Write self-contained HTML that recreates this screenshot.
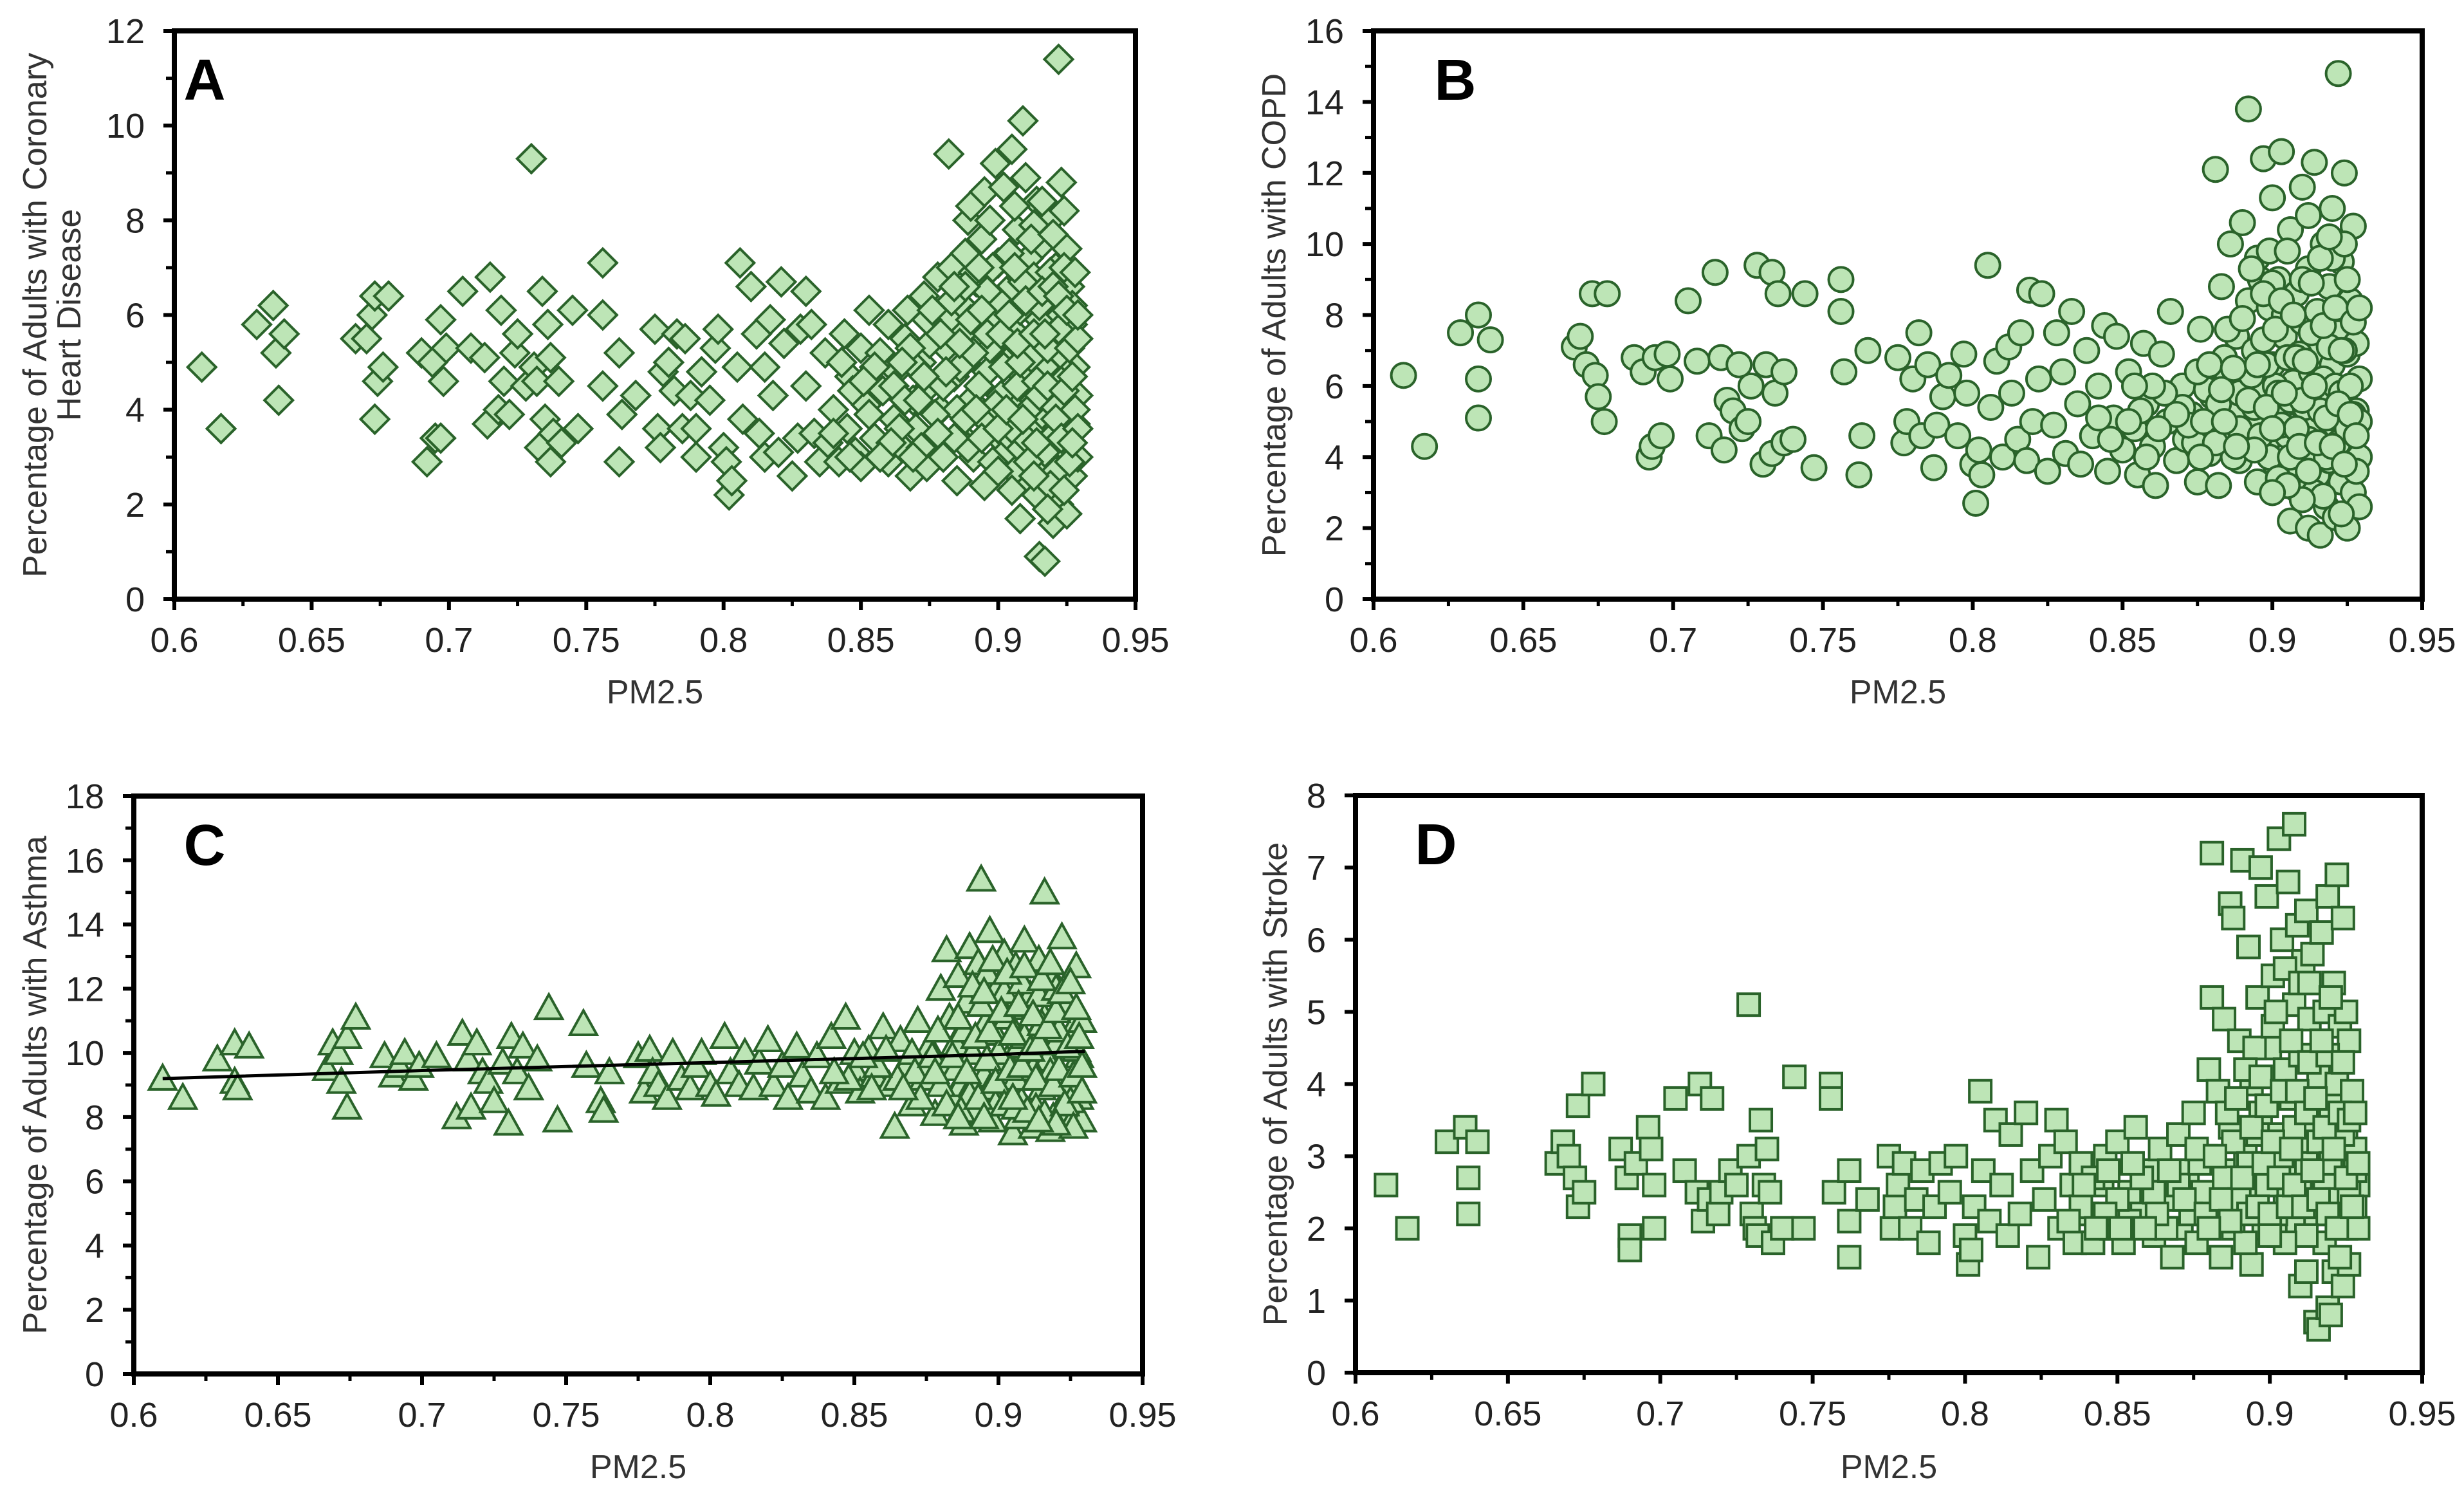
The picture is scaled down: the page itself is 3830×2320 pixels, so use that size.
<!DOCTYPE html>
<html><head><meta charset="utf-8">
<style>
html,body{margin:0;padding:0;background:#fff;}
svg{display:block;font-family:"Liberation Sans",Arial,sans-serif;}
</style></head>
<body>
<svg id="fig" width="3830" height="2320" viewBox="0 0 3830 2320" xmlns="http://www.w3.org/2000/svg"></svg>
<script>
const xTicks = [0.6,0.65,0.7,0.75,0.8,0.85,0.9,0.95];
const xTickLabels = ["0.6","0.65","0.7","0.75","0.8","0.85","0.9","0.95"];
const yTicksA = [0,2,4,6,8,10,12];
const yTicksB = [0,2,4,6,8,10,12,14,16];
const yTicksC = [0,2,4,6,8,10,12,14,16,18];
const yTicksD = [0,1,2,3,4,5,6,7,8];
const trendXC = [0.61,0.7,0.8,0.9,0.93];
const trendYC = [9.2,9.45,9.7,9.95,10.05];

const seriesA = [[0.61,4.9],[0.617,3.6],[0.63,5.8],[0.636,6.2],[0.637,5.2],[0.638,4.2],[0.64,5.6],[0.666,5.5],[0.67,5.5],[0.672,6.0],[0.673,6.4],[0.674,4.6],[0.673,3.8],[0.676,4.9],[0.678,6.4],[0.69,5.2],[0.692,2.9],[0.694,5.0],[0.695,3.4],[0.697,3.4],[0.697,5.9],[0.698,4.6],[0.699,5.3],[0.705,6.5],[0.708,5.3],[0.713,5.1],[0.714,3.7],[0.715,6.8],[0.718,4.0],[0.719,6.1],[0.72,4.6],[0.722,3.9],[0.724,5.2],[0.725,5.6],[0.728,4.5],[0.73,9.3],[0.731,4.9],[0.732,4.6],[0.733,3.2],[0.734,6.5],[0.735,3.8],[0.736,5.8],[0.737,5.1],[0.738,3.5],[0.737,2.9],[0.74,4.6],[0.741,3.3],[0.745,6.1],[0.747,3.6],[0.756,7.1],[0.756,6.0],[0.756,4.5],[0.762,5.2],[0.763,3.9],[0.762,2.9],[0.768,4.3],[0.775,5.7],[0.776,3.6],[0.777,3.2],[0.778,4.8],[0.78,5.0],[0.782,4.4],[0.783,5.6],[0.785,3.6],[0.786,5.5],[0.788,4.3],[0.79,3.6],[0.79,3.0],[0.792,4.8],[0.795,4.2],[0.797,5.3],[0.798,5.7],[0.8,3.2],[0.801,2.9],[0.802,2.2],[0.803,2.5],[0.805,4.9],[0.806,7.1],[0.807,3.8],[0.81,6.6],[0.812,5.6],[0.813,3.5],[0.815,3.0],[0.815,4.9],[0.817,5.9],[0.818,4.3],[0.82,3.1],[0.821,6.7],[0.822,5.4],[0.825,2.6],[0.827,3.4],[0.828,5.7],[0.83,6.5],[0.83,4.5],[0.832,5.8],[0.833,3.5],[0.835,2.9],[0.837,5.2],[0.838,3.3],[0.84,4.0],[0.842,2.9],[0.844,5.6],[0.845,3.6],[0.846,4.7],[0.848,3.1],[0.85,5.3],[0.85,2.8],[0.852,4.1],[0.853,6.1],[0.855,3.4],[0.857,5.2],[0.858,4.4],[0.86,2.9],[0.86,5.8],[0.862,3.8],[0.863,4.8],[0.865,3.2],[0.866,5.5],[0.867,6.1],[0.868,2.6],[0.869,4.2],[0.87,3.6],[0.872,5.0],[0.873,6.4],[0.874,2.8],[0.875,4.5],[0.876,3.3],[0.877,5.8],[0.878,6.8],[0.879,4.0],[0.88,3.0],[0.881,5.3],[0.882,9.4],[0.883,7.0],[0.884,4.7],[0.885,2.5],[0.886,3.5],[0.887,6.2],[0.888,5.0],[0.889,8.0],[0.89,8.3],[0.89,4.2],[0.891,3.0],[0.892,6.7],[0.893,5.5],[0.894,7.6],[0.895,8.6],[0.895,2.4],[0.896,4.8],[0.897,3.7],[0.898,6.0],[0.899,9.2],[0.9,7.1],[0.9,5.2],[0.901,4.3],[0.902,8.7],[0.902,3.3],[0.903,6.5],[0.904,2.8],[0.905,9.5],[0.905,5.7],[0.906,4.0],[0.907,7.8],[0.907,3.1],[0.908,1.7],[0.908,6.1],[0.909,10.1],[0.909,4.7],[0.91,8.9],[0.91,2.5],[0.911,5.4],[0.911,7.2],[0.912,3.6],[0.913,6.8],[0.913,4.2],[0.914,8.4],[0.914,2.2],[0.915,5.9],[0.915,0.9],[0.916,3.9],[0.916,7.5],[0.917,0.8],[0.917,4.9],[0.918,6.3],[0.918,2.9],[0.919,8.0],[0.919,3.4],[0.92,5.5],[0.92,1.6],[0.921,7.0],[0.921,4.4],[0.922,11.4],[0.922,2.0],[0.923,6.0],[0.923,8.8],[0.924,3.2],[0.924,5.1],[0.925,7.4],[0.925,1.8],[0.926,4.0],[0.926,6.6],[0.927,2.6],[0.927,5.8],[0.928,3.7],[0.928,4.9],[0.929,4.3],
[0.885,4.0],[0.887,5.6],[0.889,3.2],[0.891,6.9],[0.893,4.5],[0.895,3.8],[0.897,5.3],[0.899,4.1],[0.9,6.3],[0.901,3.0],[0.903,5.0],[0.904,7.3],[0.906,2.7],[0.907,4.5],[0.909,6.7],[0.91,3.4],[0.912,5.1],[0.913,7.9],[0.914,4.6],[0.915,6.2],[0.917,3.1],[0.918,5.3],[0.919,6.9],[0.92,4.1],[0.921,2.7],[0.922,5.7],[0.923,4.6],[0.924,7.0],[0.925,3.5],[0.926,5.3],[0.927,6.2],[0.928,4.0],[0.929,5.5],[0.929,3.0],[0.896,6.5],[0.898,2.9],[0.902,4.9],[0.905,3.6],[0.908,5.0],[0.911,4.0],[0.87,4.9],[0.872,3.2],[0.875,5.4],[0.877,3.9],[0.88,4.5],[0.882,5.9],[0.884,3.4],[0.886,4.9],[0.888,6.6],[0.891,5.2],[0.894,3.4],[0.862,4.5],[0.864,3.6],[0.866,4.2],[0.868,5.3],[0.855,4.9],[0.853,3.9],[0.847,4.4],[0.843,5.0],[0.84,3.5]];
const extraA = [[0.871,4.2],[0.874,5.9],[0.878,3.5],[0.881,4.8],[0.883,6.3],[0.886,5.4],[0.888,3.8],[0.89,5.9],[0.892,4.0],[0.894,6.1],[0.896,5.6],[0.898,7.0],[0.9,3.6],[0.901,5.6],[0.903,4.0],[0.904,6.0],[0.906,7.0],[0.907,5.4],[0.909,3.8],[0.91,6.3],[0.911,2.9],[0.912,7.6],[0.913,5.6],[0.914,3.3],[0.915,4.3],[0.916,6.5],[0.917,5.6],[0.918,4.5],[0.919,2.4],[0.92,6.6],[0.921,3.8],[0.922,6.4],[0.923,3.4],[0.924,4.4],[0.925,6.1],[0.926,2.9],[0.927,4.7],[0.928,6.9],[0.929,3.6],[0.929,6.0],[0.92,7.7],[0.924,8.2],[0.916,8.4],[0.906,8.3],[0.897,8.0],[0.893,7.0],[0.888,7.3],[0.884,6.6],[0.879,5.6],[0.876,6.1],[0.873,4.7],[0.869,3.0],[0.865,5.0],[0.861,3.3],[0.857,3.0],[0.851,4.6],[0.846,3.0],[0.9,2.7],[0.905,2.3],[0.913,2.6],[0.918,1.9],[0.924,2.3],[0.927,3.3]];

const seriesB = [[0.61,6.3],[0.617,4.3],[0.629,7.5],[0.635,8.0],[0.635,6.2],[0.635,5.1],[0.639,7.3],[0.667,7.1],[0.669,7.4],[0.671,6.6],[0.673,8.6],[0.674,6.3],[0.675,5.7],[0.677,5.0],[0.678,8.6],[0.687,6.8],[0.69,6.4],[0.692,4.0],[0.693,4.3],[0.694,6.8],[0.696,4.6],[0.698,6.9],[0.699,6.2],[0.705,8.4],[0.708,6.7],[0.712,4.6],[0.714,9.2],[0.716,6.8],[0.717,4.2],[0.718,5.6],[0.72,5.3],[0.722,6.6],[0.723,4.8],[0.725,5.0],[0.726,6.0],[0.728,9.4],[0.73,3.8],[0.731,6.6],[0.733,9.2],[0.733,4.1],[0.734,5.8],[0.735,8.6],[0.737,4.4],[0.737,6.4],[0.74,4.5],[0.744,8.6],[0.747,3.7],[0.756,9.0],[0.756,8.1],[0.757,6.4],[0.762,3.5],[0.763,4.6],[0.765,7.0],[0.775,6.8],[0.777,4.4],[0.778,5.0],[0.78,6.2],[0.782,7.5],[0.783,4.6],[0.785,6.6],[0.787,3.7],[0.788,4.9],[0.79,5.7],[0.792,6.3],[0.795,4.6],[0.797,6.9],[0.798,5.8],[0.8,3.8],[0.801,2.7],[0.802,4.2],[0.803,3.5],[0.805,9.4],[0.806,5.4],[0.808,6.7],[0.81,4.0],[0.812,7.1],[0.813,5.8],[0.815,4.5],[0.816,7.5],[0.818,3.9],[0.819,8.7],[0.82,5.0],[0.822,6.2],[0.823,8.6],[0.825,3.6],[0.827,4.9],[0.828,7.5],[0.83,6.4],[0.831,4.1],[0.833,8.1],[0.835,5.5],[0.836,3.8],[0.838,7.0],[0.84,4.6],[0.842,6.0],[0.844,7.7],[0.845,3.6],[0.847,5.1],[0.848,7.4],[0.85,4.2],[0.852,6.4],[0.854,4.8],[0.855,3.5],[0.857,7.2],[0.858,5.5],[0.86,4.3],[0.861,3.2],[0.863,6.9],[0.865,5.0],[0.866,8.1],[0.868,3.9],[0.87,6.0],[0.871,4.5],[0.873,5.2],[0.875,3.3],[0.876,7.6],[0.877,6.4],[0.879,4.1],[0.88,5.7],[0.881,12.1],[0.882,3.2],[0.883,8.8],[0.884,6.8],[0.885,4.6],[0.886,10.0],[0.887,5.3],[0.888,7.4],[0.889,3.9],[0.89,10.6],[0.891,6.1],[0.892,8.4],[0.892,13.8],[0.893,4.8],[0.894,7.0],[0.895,3.3],[0.895,9.6],[0.896,5.8],[0.897,12.4],[0.898,4.3],[0.899,8.2],[0.9,6.6],[0.9,11.3],[0.901,3.8],[0.902,5.2],[0.902,9.0],[0.903,12.6],[0.904,7.4],[0.905,4.6],[0.906,2.2],[0.906,10.4],[0.907,6.1],[0.908,8.6],[0.908,3.1],[0.909,5.5],[0.91,11.6],[0.91,7.8],[0.911,4.0],[0.912,2.0],[0.912,9.3],[0.913,6.4],[0.914,5.0],[0.914,12.3],[0.915,3.5],[0.915,8.1],[0.916,1.8],[0.916,7.0],[0.917,4.4],[0.917,10.0],[0.918,5.9],[0.918,2.6],[0.919,8.8],[0.919,3.9],[0.92,6.6],[0.92,11.0],[0.921,4.9],[0.921,2.3],[0.922,7.5],[0.922,14.8],[0.923,3.3],[0.923,9.5],[0.924,5.6],[0.924,12.0],[0.925,6.9],[0.925,2.0],[0.926,4.2],[0.926,8.4],[0.927,10.5],[0.927,3.0],[0.928,5.3],[0.928,7.2],[0.929,4.0],[0.929,6.2],
[0.88,5.0],[0.885,6.2],[0.887,4.0],[0.889,5.8],[0.891,4.5],[0.893,6.3],[0.895,5.0],[0.897,7.3],[0.899,4.0],[0.901,6.0],[0.903,4.9],[0.904,8.0],[0.906,5.6],[0.907,3.6],[0.909,6.9],[0.911,5.4],[0.912,4.5],[0.913,7.5],[0.914,3.0],[0.916,5.3],[0.917,6.2],[0.918,4.0],[0.919,7.1],[0.92,5.1],[0.921,6.0],[0.922,4.4],[0.923,5.8],[0.924,7.0],[0.925,4.8],[0.926,6.0],[0.927,5.2],[0.928,3.6],[0.929,5.0],[0.894,5.4],[0.898,6.6],[0.902,5.8],[0.905,6.8],[0.908,4.8],[0.91,5.6],[0.87,5.4],[0.874,4.4],[0.878,5.9],[0.882,5.5],[0.886,4.8],[0.864,5.8],[0.86,6.0],[0.856,5.3],[0.852,5.0],[0.896,9.0],[0.9,8.9],[0.912,10.8],[0.92,9.6],[0.924,10.0]];
const extraB = [[0.872,4.9],[0.875,6.4],[0.877,5.0],[0.879,6.6],[0.881,4.4],[0.883,5.9],[0.885,7.6],[0.887,6.5],[0.889,4.8],[0.89,7.9],[0.892,5.6],[0.893,9.3],[0.895,6.6],[0.896,4.6],[0.897,8.6],[0.898,5.4],[0.899,9.8],[0.9,4.8],[0.901,7.6],[0.902,3.4],[0.903,8.4],[0.904,5.8],[0.905,9.8],[0.906,4.0],[0.907,8.0],[0.908,6.8],[0.909,4.3],[0.91,9.0],[0.911,6.7],[0.912,3.6],[0.913,8.9],[0.914,6.0],[0.915,4.4],[0.916,9.6],[0.917,7.7],[0.918,5.1],[0.919,10.2],[0.92,4.3],[0.921,8.2],[0.922,5.5],[0.923,7.0],[0.924,3.8],[0.925,9.0],[0.926,5.2],[0.927,7.8],[0.928,4.6],[0.929,8.2],[0.929,2.6],[0.923,2.4],[0.917,2.9],[0.91,2.8],[0.905,3.2],[0.9,3.0],[0.894,4.2],[0.888,4.3],[0.884,5.0],[0.876,4.0],[0.868,5.2],[0.862,4.8],[0.858,4.0],[0.854,6.0],[0.846,4.5],[0.842,5.1]];

const seriesC = [[0.61,9.2],[0.617,8.6],[0.629,9.8],[0.635,10.3],[0.635,9.1],[0.636,8.9],[0.64,10.2],[0.667,9.5],[0.669,10.3],[0.671,10.0],[0.672,9.1],[0.674,8.3],[0.674,10.5],[0.677,11.1],[0.687,9.9],[0.69,9.3],[0.692,9.6],[0.694,10.0],[0.697,9.2],[0.699,9.6],[0.705,9.9],[0.712,8.0],[0.714,10.6],[0.716,9.8],[0.717,8.3],[0.719,10.3],[0.721,9.4],[0.723,9.1],[0.725,8.5],[0.728,9.7],[0.73,7.8],[0.731,10.5],[0.733,9.4],[0.735,10.2],[0.737,8.9],[0.74,9.8],[0.744,11.4],[0.747,7.9],[0.756,10.9],[0.757,9.6],[0.762,8.5],[0.763,8.2],[0.765,9.4],[0.775,9.9],[0.777,8.8],[0.779,10.1],[0.78,9.4],[0.782,9.0],[0.785,8.6],[0.787,10.0],[0.79,9.2],[0.793,8.9],[0.795,9.6],[0.797,10.0],[0.8,9.0],[0.802,8.7],[0.805,10.5],[0.807,9.4],[0.81,9.0],[0.812,10.0],[0.815,8.9],[0.817,9.7],[0.82,10.4],[0.822,9.0],[0.825,9.6],[0.827,8.6],[0.83,10.2],[0.832,9.3],[0.835,8.8],[0.837,9.9],[0.84,8.6],[0.842,10.5],[0.845,9.1],[0.847,11.1],[0.85,9.5],[0.852,8.8],[0.855,10.1],[0.857,9.3],[0.86,10.8],[0.862,9.0],[0.864,7.7],[0.866,10.4],[0.868,9.6],[0.87,8.4],[0.872,11.0],[0.874,9.2],[0.876,10.2],[0.878,8.1],[0.88,12.0],[0.881,9.6],[0.882,13.2],[0.883,11.1],[0.884,8.6],[0.885,10.3],[0.886,12.4],[0.887,9.0],[0.888,7.8],[0.889,11.6],[0.89,13.3],[0.891,10.0],[0.892,8.2],[0.893,12.8],[0.894,15.4],[0.895,9.3],[0.896,11.0],[0.897,13.8],[0.898,7.9],[0.899,10.6],[0.9,12.1],[0.901,8.8],[0.902,13.1],[0.903,9.8],[0.904,11.4],[0.905,7.5],[0.906,12.7],[0.907,10.2],[0.908,8.5],[0.909,13.5],[0.91,9.4],[0.911,11.8],[0.912,7.7],[0.913,10.6],[0.914,12.9],[0.915,8.9],[0.916,15.0],[0.916,11.1],[0.917,9.8],[0.918,7.6],[0.919,12.3],[0.92,10.3],[0.921,8.2],[0.922,13.6],[0.923,9.1],[0.924,11.5],[0.925,7.8],[0.926,10.8],[0.927,12.7],[0.928,8.6],[0.928,9.9],[0.929,7.9],[0.929,11.0],
[0.885,9.5],[0.888,10.7],[0.891,9.0],[0.894,11.5],[0.897,8.9],[0.9,10.0],[0.903,11.1],[0.906,9.2],[0.909,10.5],[0.912,9.5],[0.915,10.9],[0.918,9.4],[0.921,10.7],[0.924,9.0],[0.927,10.1],[0.896,12.5],[0.902,11.9],[0.908,12.2],[0.914,11.8],[0.92,12.0],[0.89,8.7],[0.899,8.4],[0.907,8.0],[0.913,8.3],[0.919,8.0],[0.925,8.5],[0.87,10.0],[0.875,9.6],[0.88,9.0],[0.865,9.2],[0.858,9.6],[0.85,10.0]];
const extraC = [[0.871,9.4],[0.873,8.6],[0.877,9.9],[0.879,10.7],[0.882,8.4],[0.884,9.9],[0.886,11.1],[0.887,8.2],[0.889,9.4],[0.891,12.1],[0.892,10.5],[0.893,8.6],[0.895,11.9],[0.896,9.8],[0.897,10.7],[0.898,12.9],[0.899,9.1],[0.901,11.3],[0.902,8.4],[0.903,12.5],[0.904,9.5],[0.905,10.6],[0.906,8.3],[0.907,11.5],[0.908,9.6],[0.909,12.7],[0.91,8.2],[0.911,10.1],[0.912,11.2],[0.913,9.2],[0.914,10.3],[0.915,12.3],[0.916,8.1],[0.917,10.8],[0.918,12.8],[0.919,9.0],[0.92,11.3],[0.921,9.5],[0.922,11.9],[0.923,8.4],[0.924,10.2],[0.925,12.2],[0.926,9.3],[0.927,11.4],[0.928,10.5],[0.929,8.8],[0.929,9.6],[0.926,7.7],[0.92,7.8],[0.914,7.9],[0.905,8.6],[0.895,8.0],[0.886,8.0],[0.878,9.4],[0.867,8.9],[0.861,10.1],[0.856,8.9],[0.853,9.9],[0.848,9.2],[0.843,9.4]];

const seriesD = [[0.61,2.6],[0.617,2.0],[0.63,3.2],[0.636,3.4],[0.637,2.7],[0.637,2.2],[0.64,3.2],[0.666,2.9],[0.668,3.2],[0.67,3.0],[0.672,2.7],[0.673,3.7],[0.673,2.3],[0.675,2.5],[0.678,4.0],[0.687,3.1],[0.689,2.7],[0.69,1.9],[0.69,1.7],[0.692,2.9],[0.696,3.4],[0.697,3.1],[0.698,2.0],[0.698,2.6],[0.705,3.8],[0.708,2.8],[0.712,2.5],[0.713,4.0],[0.714,2.1],[0.716,2.4],[0.717,3.8],[0.719,2.2],[0.72,2.5],[0.723,2.8],[0.725,2.6],[0.729,5.1],[0.729,3.0],[0.73,2.2],[0.731,2.0],[0.732,1.9],[0.733,3.5],[0.734,2.6],[0.735,3.1],[0.736,2.5],[0.737,1.8],[0.74,2.0],[0.744,4.1],[0.747,2.0],[0.756,4.0],[0.756,3.8],[0.757,2.5],[0.762,2.8],[0.762,2.1],[0.762,1.6],[0.768,2.4],[0.775,3.0],[0.776,2.0],[0.777,2.3],[0.778,2.6],[0.78,2.9],[0.782,2.0],[0.784,2.4],[0.786,2.8],[0.788,1.8],[0.79,2.3],[0.792,2.9],[0.795,2.5],[0.797,3.0],[0.8,1.9],[0.801,1.5],[0.802,1.7],[0.803,2.3],[0.805,3.9],[0.806,2.8],[0.808,2.1],[0.81,3.5],[0.812,2.6],[0.814,1.9],[0.815,3.3],[0.818,2.2],[0.82,3.6],[0.822,2.8],[0.824,1.6],[0.826,2.4],[0.828,3.0],[0.83,3.5],[0.831,2.0],[0.833,3.2],[0.835,2.6],[0.836,1.8],[0.838,2.9],[0.84,2.2],[0.842,1.8],[0.845,2.6],[0.846,3.0],[0.848,2.0],[0.85,3.2],[0.852,1.8],[0.854,2.5],[0.856,3.4],[0.858,2.2],[0.86,2.8],[0.862,1.9],[0.864,3.1],[0.866,2.4],[0.868,1.6],[0.87,3.3],[0.871,2.0],[0.873,2.8],[0.875,3.6],[0.876,1.8],[0.878,2.5],[0.879,3.0],[0.88,4.2],[0.881,7.2],[0.881,5.2],[0.882,2.1],[0.883,3.9],[0.884,1.6],[0.885,4.9],[0.886,2.8],[0.887,6.5],[0.887,3.4],[0.888,6.3],[0.889,2.3],[0.89,4.6],[0.891,7.1],[0.892,3.0],[0.893,5.9],[0.894,1.5],[0.894,4.0],[0.895,2.6],[0.896,5.2],[0.897,7.0],[0.897,3.6],[0.898,2.0],[0.899,6.6],[0.9,4.5],[0.9,2.9],[0.901,5.5],[0.902,3.3],[0.903,7.4],[0.903,1.9],[0.904,6.0],[0.905,4.2],[0.905,2.4],[0.906,6.8],[0.907,3.8],[0.908,7.6],[0.908,5.1],[0.909,2.1],[0.909,6.2],[0.91,1.2],[0.91,4.4],[0.911,5.7],[0.911,3.1],[0.912,1.4],[0.912,6.4],[0.913,2.6],[0.913,4.9],[0.914,3.5],[0.914,5.8],[0.915,0.7],[0.915,2.2],[0.916,0.6],[0.916,4.1],[0.917,6.1],[0.917,3.0],[0.918,1.8],[0.918,5.0],[0.919,0.9],[0.919,6.6],[0.92,3.7],[0.92,2.5],[0.921,5.4],[0.921,1.4],[0.922,4.0],[0.922,6.9],[0.923,2.9],[0.923,4.8],[0.924,1.2],[0.924,6.3],[0.925,3.4],[0.925,2.0],[0.926,4.6],[0.926,1.5],[0.927,2.8],[0.927,3.9],[0.928,2.3],[0.928,3.1],[0.929,2.6],[0.929,2.0],
[0.885,2.7],[0.888,3.2],[0.89,2.4],[0.893,2.9],[0.896,3.3],[0.899,2.6],[0.902,2.2],[0.904,3.0],[0.906,2.7],[0.908,3.4],[0.91,2.5],[0.912,2.9],[0.914,2.3],[0.916,3.2],[0.918,2.6],[0.92,2.9],[0.922,2.4],[0.924,3.3],[0.926,2.5],[0.928,2.8],[0.895,4.5],[0.901,4.8],[0.907,4.6],[0.913,4.3],[0.919,4.4],[0.925,5.0],[0.87,2.6],[0.874,2.2],[0.877,2.9],[0.866,2.0],[0.862,2.5],[0.858,2.7],[0.854,2.1],[0.85,2.4],[0.846,2.2],[0.842,2.7],[0.838,2.3],[0.834,2.1]];
const extraD = [[0.872,2.4],[0.876,3.1],[0.879,2.2],[0.882,3.0],[0.884,2.4],[0.886,3.6],[0.888,2.0],[0.889,3.8],[0.891,2.7],[0.892,4.2],[0.893,2.2],[0.894,3.4],[0.896,2.3],[0.897,4.1],[0.898,2.9],[0.899,3.7],[0.9,2.2],[0.901,3.2],[0.902,5.0],[0.903,2.7],[0.904,3.9],[0.905,5.6],[0.906,2.3],[0.907,3.1],[0.908,2.6],[0.909,3.9],[0.91,5.4],[0.911,2.3],[0.912,3.6],[0.913,5.4],[0.914,2.8],[0.915,3.8],[0.916,2.4],[0.917,4.6],[0.918,3.4],[0.919,2.2],[0.92,5.2],[0.921,3.1],[0.922,2.0],[0.923,3.6],[0.924,4.3],[0.925,2.7],[0.926,3.5],[0.927,2.3],[0.928,3.6],[0.929,2.9],[0.92,0.8],[0.923,1.6],[0.912,1.9],[0.905,1.8],[0.9,1.9],[0.892,1.8],[0.887,2.1],[0.88,2.0],[0.867,2.8],[0.863,2.2],[0.859,2.0],[0.855,2.9],[0.851,2.0],[0.847,2.8],[0.843,2.0],[0.839,2.6]];

const NS = "http://www.w3.org/2000/svg";
const svg = document.getElementById('fig');
const FILL = "#bde5b6", STROKE = "#2a632a";
function mk(tag, attrs, parent){
  const e = document.createElementNS(NS, tag);
  for (const k in attrs) e.setAttribute(k, attrs[k]);
  (parent||svg).appendChild(e);
  return e;
}

function panel(cfg){
  const g = mk('g', {});
  
  
  const L=cfg.l, R=cfg.r, T=cfg.t, B=cfg.b;
  const ymax = cfg.yTicks[cfg.yTicks.length-1];
  const sx = v => L + (v-0.6)/(0.35)*(R-L);
  const sy = v => B - v/ymax*(B-T);

  const mg = mk('g', {}, g);
  
  
  cfg.data.forEach(p => {
    const x = sx(p[0]), y = sy(p[1]);
    let m;
    if (cfg.shape === 'diamond') {
      const h = 22;
      m = mk('polygon', {points:`${x},${y-h} ${x+h},${y} ${x},${y+h} ${x-h},${y}`}, mg);
    } else if (cfg.shape === 'circle') {
      m = mk('circle', {cx:x, cy:y, r:19}, mg);
    } else if (cfg.shape === 'triangle') {
      const h = 21;
      m = mk('polygon', {points:`${x},${y-h} ${x+h},${y+h*0.8} ${x-h},${y+h*0.8}`}, mg);
    } else {
      m = mk('rect', {x:x-17, y:y-17, width:34, height:34}, mg);
    }
    m.setAttribute('fill', FILL);
    m.setAttribute('stroke', STROKE);
    m.setAttribute('stroke-width', '4');
    
    
  });

  if (cfg.trendX) {
    const d = cfg.trendX.map((v,i)=> (i?'L':'M') + sx(v) + ',' + sy(cfg.trendY[i])).join(' ');
    const tl = mk('path', {d:d, fill:'none', stroke:'#000', 'stroke-width':5}, g);
    
    
  }

  const fr = mk('rect', {x:L, y:T, width:R-L, height:B-T, fill:'none', stroke:'#000', 'stroke-width':8}, g);
  
  

  xTicks.forEach((v,i) => {
    const x = sx(v);
    mk('line', {x1:x, y1:B, x2:x, y2:B+17, stroke:'#000', 'stroke-width':6}, g);
    if (i < xTicks.length-1) {
      const xm = sx(v+0.025);
      mk('line', {x1:xm, y1:B, x2:xm, y2:B+11, stroke:'#000', 'stroke-width':5}, g);
    }
    const t = mk('text', {x:x, y:B+82, 'font-size':54, 'text-anchor':'middle', fill:'#222'}, g);
    t.textContent = xTickLabels[i];
    
    
  });
  const step = cfg.yTicks[1]-cfg.yTicks[0];
  cfg.yTicks.forEach((v,i) => {
    const y = sy(v);
    mk('line', {x1:L-17, y1:y, x2:L, y2:y, stroke:'#000', 'stroke-width':6}, g);
    if (i < cfg.yTicks.length-1 && cfg.minorY) {
      const ym = sy(v+step/2);
      mk('line', {x1:L-13, y1:ym, x2:L, y2:ym, stroke:'#000', 'stroke-width':5}, g);
    }
    const t = mk('text', {x:L-46, y:y+19, 'font-size':54, 'text-anchor':'end', fill:'#222'}, g);
    t.textContent = String(v);
    
    
  });
  const xt = mk('text', {x:(L+R)/2, y:cfg.xTitleY, 'font-size':52, 'text-anchor':'middle', fill:'#333'}, g);
  xt.textContent = 'PM2.5';
  
  
  const cy = (T+B)/2;
  cfg.yTitle.forEach((line, i) => {
    const yx = cfg.yTitleX[i];
    const yt = mk('text', {x:yx, y:cy, 'font-size':52, 'text-anchor':'middle', fill:'#333', transform:`rotate(-90 ${yx} ${cy})`}, g);
    yt.textContent = line;
    
    
  });
  const lt = mk('text', {x:cfg.letterX, y:T+107, 'font-size':90, 'font-weight':'bold', 'text-anchor':'middle', fill:'#000'}, g);
  lt.textContent = cfg.id;
  
  
}

panel({id:'A', l:271, r:1765, t:48, b:931, yTicks:yTicksA, minorY:true, data:seriesA.concat(extraA), shape:'diamond',
  xTitleY:1093, yTitle:['Percentage of Adults with Coronary','Heart Disease'], yTitleX:[72,125], letterX:318});
panel({id:'B', l:2135, r:3765, t:48, b:931, yTicks:yTicksB, minorY:true, data:seriesB.concat(extraB), shape:'circle',
  xTitleY:1093, yTitle:['Percentage of Adults with COPD'], yTitleX:[1998], letterX:2262});
panel({id:'C', l:208, r:1776, t:1237, b:2135, yTicks:yTicksC, minorY:true, data:seriesC.concat(extraC), shape:'triangle',
  trendX:trendXC, trendY:trendYC,
  xTitleY:2297, yTitle:['Percentage of Adults with Asthma'], yTitleX:[72], letterX:318});
panel({id:'D', l:2107, r:3765, t:1236, b:2133, yTicks:yTicksD, minorY:false, data:seriesD.concat(extraD), shape:'square',
  xTitleY:2297, yTitle:['Percentage of Adults with Stroke'], yTitleX:[2000], letterX:2232});
</script>
</body></html>
